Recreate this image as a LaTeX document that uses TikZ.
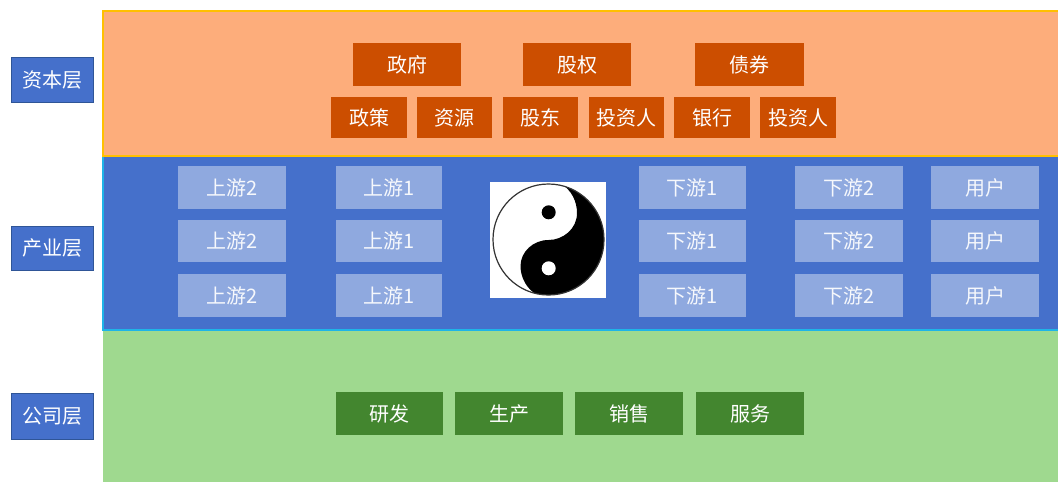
\documentclass[tikz,border=0pt]{standalone}
\usepackage{fontspec}
\setmainfont{Noto Sans CJK SC}
\definecolor{bandorange}{HTML}{FDAD7B}
\definecolor{bandblue}{HTML}{4570CB}
\definecolor{bandgreen}{HTML}{9FD98F}
\definecolor{darkorange}{HTML}{CC4E00}
\definecolor{lightblue}{HTML}{8FA9DF}
\definecolor{darkgreen}{HTML}{43862F}
\definecolor{sideedge}{HTML}{2F5597}
\definecolor{edgeyellow}{HTML}{FFC000}
\definecolor{edgecyan}{HTML}{1FB4E8}
\tikzset{
  x=1pt,y=-1pt,
  cell/.style={draw=none,inner sep=0pt,outer sep=0pt,text=white,font=\fontsize{20}{22}\selectfont,anchor=center},
  capbox/.style={cell,fill=darkorange},
  indbox/.style={cell,fill=lightblue,text=white!92!lightblue},
  combox/.style={cell,fill=darkgreen},
  sidebox/.style={cell,fill=bandblue,draw=sideedge,line width=1pt},
  band/.style={inner sep=0pt,outer sep=0pt,draw=none},
}
% #1 style, #2 name, #3 x0, #4 y0, #5 x1, #6 y1, #7 text
\newcommand{\bx}[7]{\node[#1,minimum width=#5pt-#3pt,minimum height=#6pt-#4pt] (#2) at ({(#3+#5)/2},{(#4+#6)/2}) {#7};}
\begin{document}
\begin{tikzpicture}
\useasboundingbox (0,0) rectangle (1058,482);
\fill[white] (0,0) rectangle (1058,482);
% bands
\bx{band,fill=bandorange}{bandcap}{103}{11}{1058}{156}{}
\bx{band,fill=bandblue}{bandind}{103}{156}{1058}{330}{}
\bx{band,fill=bandgreen}{bandcom}{103}{330}{1058}{482}{}
\draw[edgecyan,line width=1.2pt] (bandind.north west) -- (bandind.south west) -- (bandind.south east);
\draw[edgeyellow,line width=1.2pt] (bandcap.south east) -- (bandcap.south west) -- (bandcap.north west) -- (bandcap.north east);
% side labels
\bx{sidebox}{s1}{11}{57}{93.5}{102}{资本层}
\bx{sidebox}{s2}{11}{226}{93.5}{270}{产业层}
\bx{sidebox}{s3}{11}{393}{93.5}{439}{公司层}
% capital
\bx{capbox}{c1}{353}{43}{461}{86}{政府}
\bx{capbox}{c2}{523}{43}{631}{86}{股权}
\bx{capbox}{c3}{695}{43}{804}{86}{债券}
\bx{capbox}{d1}{331}{97}{407}{138}{政策}
\bx{capbox}{d2}{417}{97}{492}{138}{资源}
\bx{capbox}{d3}{503}{97}{578}{138}{股东}
\bx{capbox}{d4}{589}{97}{664}{138}{投资人}
\bx{capbox}{d5}{674}{97}{750}{138}{银行}
\bx{capbox}{d6}{760}{97}{836}{138}{投资人}
% industry
\bx{indbox}{a1}{178}{166}{286}{209}{上游2}
\bx{indbox}{a2}{178}{220}{286}{262}{上游2}
\bx{indbox}{a3}{178}{274}{286}{317}{上游2}
\bx{indbox}{b1}{336}{166}{442}{209}{上游1}
\bx{indbox}{b2}{336}{220}{442}{262}{上游1}
\bx{indbox}{b3}{336}{274}{442}{317}{上游1}
\bx{indbox}{e1}{639}{166}{746}{209}{下游1}
\bx{indbox}{e2}{639}{220}{746}{262}{下游1}
\bx{indbox}{e3}{639}{274}{746}{317}{下游1}
\bx{indbox}{f1}{795}{166}{903}{209}{下游2}
\bx{indbox}{f2}{795}{220}{903}{262}{下游2}
\bx{indbox}{f3}{795}{274}{903}{317}{下游2}
\bx{indbox}{g1}{931}{166}{1039}{209}{用户}
\bx{indbox}{g2}{931}{220}{1039}{262}{用户}
\bx{indbox}{g3}{931}{274}{1039}{317}{用户}
% company
\bx{combox}{h1}{336}{392}{443}{435}{研发}
\bx{combox}{h2}{455}{392}{563}{435}{生产}
\bx{combox}{h3}{575}{392}{683}{435}{销售}
\bx{combox}{h4}{696}{392}{804}{435}{服务}
% taiji
\fill[white] (490,182) rectangle (606,298);
\begin{scope}
\clip (548.5,239.5) circle [radius=55.5];
\fill[black] (560,183) .. controls (572,190) and (577,202) .. (577,213)
  .. controls (577,229) and (563,240) .. (548.5,240)
  .. controls (533,240) and (520.5,252) .. (520.5,266)
  .. controls (520.5,278) and (527,289) .. (537,295)
  -- (610,300) -- (610,180) -- cycle;
\end{scope}
\draw[black!80,line width=1.2pt] (548.5,239.5) circle [radius=55.5];
\fill[black] (548.7,212.3) circle [radius=7];
\fill[white] (548.7,268.3) circle [radius=7];
\end{tikzpicture}
\end{document}
